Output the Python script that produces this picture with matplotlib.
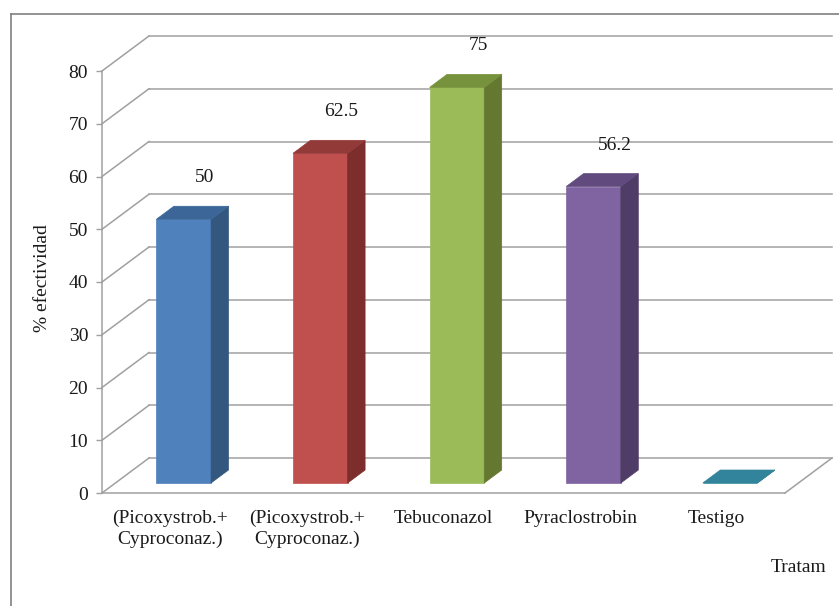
import matplotlib
matplotlib.use('Agg')
import matplotlib.pyplot as plt
from matplotlib.patches import Polygon
from matplotlib.lines import Line2D
import matplotlib.transforms as mtransforms

plt.rcParams['font.family'] = ['Liberation Serif', 'DejaVu Serif']

categorias = ['(Picoxystrob.+\nCyproconaz.)', '(Picoxystrob.+\nCyproconaz.)',
              'Tebuconazol', 'Pyraclostrobin', 'Testigo']
valores = [50, 62.5, 75, 56.2, 0]
frente = ['#4F81BD', '#C0504D', '#9BBB59', '#8064A2', '#31849B']
lado = ['#34577F', '#7D2E2C', '#657830', '#4F3D68', '#215A6A']
tapa = ['#3C6698', '#923A38', '#76923C', '#604A7E', '#31849B']
yticks = [0, 10, 20, 30, 40, 50, 60, 70, 80]

W, H = 839, 606
fig = plt.figure(figsize=(W / 100, H / 100), dpi=100)
ax = fig.add_axes([102 / W, 113 / H, 683 / W, 422 / H])
ax.set_xlim(0, 5)
ax.set_ylim(0, 80)
ax.patch.set_visible(False)

# profundidad del "3D" en unidades de datos
ddx = 47 / 683 * 5
ddy = 35 / 422 * 80
gris = '#A0A0A0'
fs = 14


def P(x, y, t):
    return (x + t * ddx, y + t * ddy)


# paredes y grilla
for k in yticks:
    ax.add_line(Line2D([0, ddx], [k, k + ddy], color=gris, lw=1.1, clip_on=False, zorder=1))
    ax.add_line(Line2D([ddx, 5 + ddx], [k + ddy, k + ddy], color=gris, lw=1.1, clip_on=False, zorder=1))
ax.add_line(Line2D([5, 5 + ddx], [0, ddy], color=gris, lw=1.1, clip_on=False, zorder=1))

# barras
f0, f1 = 0.286, 0.657
w = 0.2
for i, v in enumerate(valores):
    c = i + 0.5
    xl, xr = c - w, c + w
    caras = [
        ([P(xl, 0, f0), P(xr, 0, f0), P(xr, v, f0), P(xl, v, f0)], frente[i]),
        ([P(xr, 0, f0), P(xr, 0, f1), P(xr, v, f1), P(xr, v, f0)], lado[i]),
        ([P(xl, v, f0), P(xr, v, f0), P(xr, v, f1), P(xl, v, f1)], tapa[i]),
    ]
    for pts, col in caras:
        ax.add_patch(Polygon(pts, closed=True, facecolor=col, edgecolor=col,
                             lw=0.5, clip_on=False, zorder=3))

# etiquetas de datos
off = mtransforms.offset_copy(ax.transData, fig=fig, x=25, y=37, units='points')
for i, v in enumerate(valores):
    if v > 0:
        ax.text(i + 0.5, v, '{:g}'.format(v), transform=off, ha='center', va='center',
                fontsize=fs, color='#1a1a1a', clip_on=False)

ax.set_xticks([i + 0.5 for i in range(5)])
ax.set_xticklabels(categorias, fontsize=fs, multialignment='center', linespacing=1.25)
ax.tick_params(axis='x', length=0, pad=12, colors='#1a1a1a')
ax.set_yticks(yticks)
ax.tick_params(axis='y', length=4, width=1, color=gris, pad=6, labelsize=fs, labelcolor='#1a1a1a')
for s in ['top', 'right']:
    ax.spines[s].set_visible(False)
for s in ['left', 'bottom']:
    ax.spines[s].set_color(gris)
    ax.spines[s].set_linewidth(1.1)

ax.set_ylabel('% efectividad', fontsize=fs, color='#1a1a1a')
ax.yaxis.set_label_coords(-0.074, 0.51)
fig.text(826 / W, 1 - 568 / H, 'Tratam', ha='right', va='center', fontsize=fs, color='#1a1a1a')

# borde exterior
fig.add_artist(Line2D([11 / W, 1], [1 - 14 / H, 1 - 14 / H], color='#808080', lw=1.2))
fig.add_artist(Line2D([11 / W, 11 / W], [0, 1 - 14 / H], color='#808080', lw=1.2))

fig.savefig('out.png', dpi=100, facecolor='white')
